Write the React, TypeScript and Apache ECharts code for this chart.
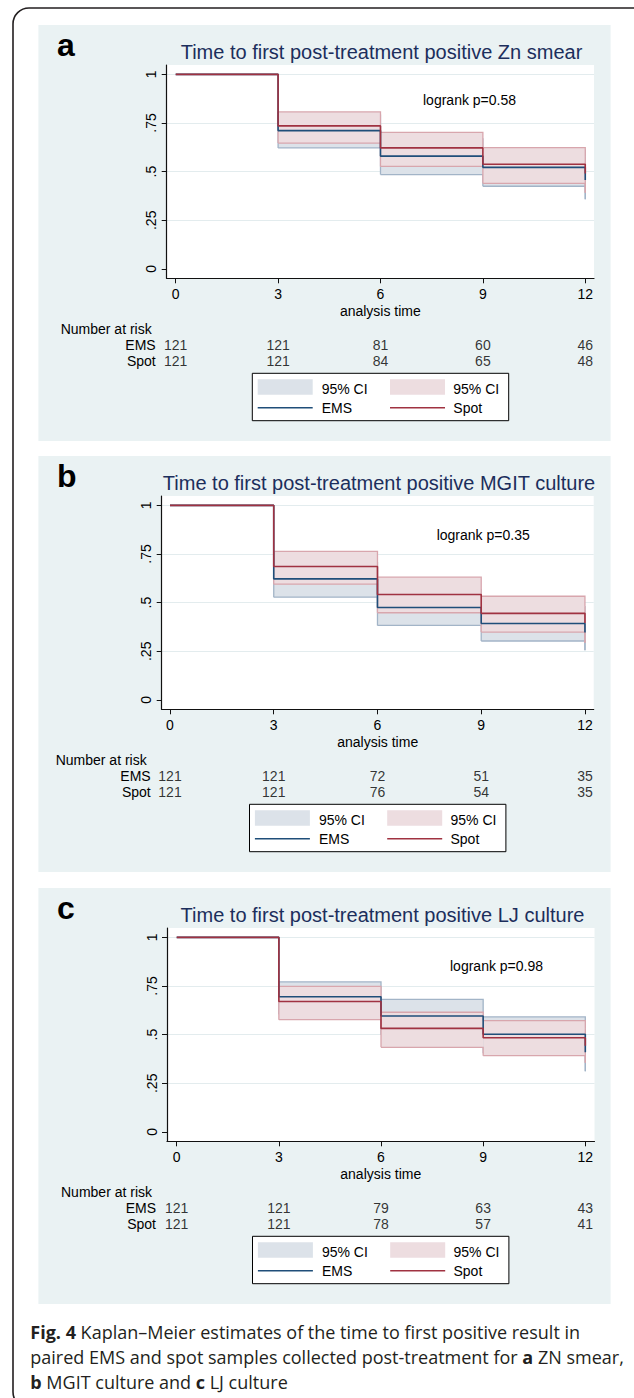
import React, { useEffect, useRef } from "react";
import * as echarts from "echarts";

// ---------------- data ----------------
const timePoints = [0, 3, 6, 9, 12];
const ciTimes = [3, 6, 9, 12];
const xTickValues = [0, 3, 6, 9, 12];
const yTickValues = [0, 0.25, 0.5, 0.75, 1];
const yTickLabels = ["0", ".25", ".5", ".75", "1"];
const riskRowNames = ["Spot", "EMS"];
const groupNames = ["EMS", "Spot"];
const ciLabel = "95% CI";
const xAxisName = "analysis time";
const riskHeader = "Number at risk";

// Panel a: ZN smear
const titleA = "Time to first post-treatment positive Zn smear";
const logrankA = "logrank p=0.58";
const emsSurvA = [1, 0.711, 0.58, 0.522, 0.457];
const spotSurvA = [1, 0.735, 0.622, 0.538, 0.491];
const emsLoA = [0.622, 0.485, 0.425, 0.358];
const emsHiA = [0.79, 0.668, 0.61, 0.55];
const spotLoA = [0.647, 0.527, 0.44, 0.392];
const spotHiA = [0.807, 0.702, 0.623, 0.577];
const emsRiskA = [121, 121, 81, 60, 46];
const spotRiskA = [121, 121, 84, 65, 48];

// Panel b: MGIT culture
const titleB = "Time to first post-treatment positive MGIT culture";
const logrankB = "logrank p=0.35";
const emsSurvB = [1, 0.622, 0.475, 0.393, 0.346];
const spotSurvB = [1, 0.686, 0.542, 0.445, 0.395];
const emsLoB = [0.528, 0.383, 0.303, 0.256];
const emsHiB = [0.705, 0.565, 0.48, 0.43];
const spotLoB = [0.595, 0.448, 0.349, 0.294];
const spotHiB = [0.763, 0.631, 0.533, 0.482];
const emsRiskB = [121, 121, 72, 51, 35];
const spotRiskB = [121, 121, 76, 54, 35];

// Panel c: LJ culture
const titleC = "Time to first post-treatment positive LJ culture";
const logrankC = "logrank p=0.98";
const emsSurvC = [1, 0.695, 0.596, 0.502, 0.409];
const spotSurvC = [1, 0.67, 0.532, 0.484, 0.443];
const emsLoC = [0.605, 0.5, 0.405, 0.312];
const emsHiC = [0.771, 0.681, 0.591, 0.51];
const spotLoC = [0.577, 0.435, 0.392, 0.355];
const spotHiC = [0.748, 0.615, 0.572, 0.53];
const emsRiskC = [121, 121, 79, 63, 43];
const spotRiskC = [121, 121, 78, 57, 41];

const captionLines = [
  "{b|Fig. 4} Kaplan\u2013Meier estimates of the time to first positive result in",
  "paired EMS and spot samples collected post-treatment for {b|a} ZN smear,",
  "{b|b} MGIT culture and {b|c} LJ culture",
];

// ---------------- layout & style ----------------
const FONT = "'Liberation Sans', Arial, Helvetica, sans-serif";
const CAPTION_FONT = "'Open Sans', 'Noto Sans', sans-serif";
const CAPTION_SIZE = 18;
const panelBg = "#EAF2F3";
const gridLineColor = "#E3ECEE";
const titleColor = "#1C2E5C";
const emsLine = "#1F4E79";
const spotLine = "#A03241";
const emsFill = "#DCE2E9";
const spotFill = "#EDDDE0";
const emsEdge = "#A2B4C7";
const spotEdge = "#D8A6AD";

const panels = [
  {
    letter: "a", title: titleA, logrank: logrankA,
    emsSurv: emsSurvA, spotSurv: spotSurvA,
    emsLo: emsLoA, emsHi: emsHiA, spotLo: spotLoA, spotHi: spotHiA,
    emsRisk: emsRiskA, spotRisk: spotRiskA,
    lay: { top: 25, left: 166.7, right: 594, xMin: -0.264, xMax: 12.256, titleX: 381.5, pX: 423, pY: 75, legendX: 252.3 },
  },
  {
    letter: "b", title: titleB, logrank: logrankB,
    emsSurv: emsSurvB, spotSurv: spotSurvB,
    emsLo: emsLoB, emsHi: emsHiB, spotLo: spotLoB, spotHi: spotHiB,
    emsRisk: emsRiskB, spotRisk: spotRiskB,
    lay: { top: 456, left: 161.7, right: 593.7, xMin: -0.24, xMax: 12.253, titleX: 379, pX: 436.7, pY: 79, legendX: 249.5 },
  },
  {
    letter: "c", title: titleC, logrank: logrankC,
    emsSurv: emsSurvC, spotSurv: spotSurvC,
    emsLo: emsLoC, emsHi: emsHiC, spotLo: spotLoC, spotHi: spotHiC,
    emsRisk: emsRiskC, spotRisk: spotRiskC,
    lay: { top: 888, left: 167, right: 594.5, xMin: -0.285, xMax: 12.27, titleX: 382.5, pX: 450, pY: 77.5, legendX: 252.5 },
  },
];

function bandItems(lo: number[], hi: number[]) {
  const items: number[][] = [];
  for (let k = 0; k < ciTimes.length - 1; k++) {
    items.push([ciTimes[k], ciTimes[k + 1], lo[k], hi[k], lo[k + 1], hi[k + 1]]);
  }
  return items;
}

function bandFillRender(fill: string) {
  return (params: any, api: any) => {
    const t0 = api.value(0), t1 = api.value(1), lo = api.value(2), hi = api.value(3);
    return {
      type: "polygon",
      silent: true,
      shape: { points: [api.coord([t0, lo]), api.coord([t0, hi]), api.coord([t1, hi]), api.coord([t1, lo])] },
      style: { fill, stroke: "none" },
    };
  };
}

function bandEdgeRender(stroke: string, count: number) {
  return (params: any, api: any) => {
    const t0 = api.value(0), t1 = api.value(1), lo = api.value(2), hi = api.value(3);
    const loN = api.value(4), hiN = api.value(5);
    const st = { stroke, fill: "none", lineWidth: 1.3 };
    const children: any[] = [
      { type: "polyline", shape: { points: [api.coord([t0, hi]), api.coord([t1, hi]), api.coord([t1, hiN])] }, style: st },
      { type: "polyline", shape: { points: [api.coord([t0, lo]), api.coord([t1, lo]), api.coord([t1, loN])] }, style: st },
    ];
    if (params.dataIndex === 0) {
      children.push({ type: "polyline", shape: { points: [api.coord([t0, lo]), api.coord([t0, hi])] }, style: st });
    }
    if (params.dataIndex === count - 1) {
      children.push({ type: "polyline", shape: { points: [api.coord([t1, hiN]), api.coord([t1, loN])] }, style: st });
    }
    return { type: "group", silent: true, children };
  };
}

function txt(text: string, x: number, y: number, extra: any = {}) {
  return {
    type: "text",
    z: 100,
    silent: true,
    style: {
      text, x, y,
      fill: "#000",
      fontSize: 14,
      fontFamily: FONT,
      align: "left", textAlign: "left",
      verticalAlign: "middle", textVerticalAlign: "middle",
      ...extra,
    },
  };
}

function buildOption() {
  const grids: any[] = [];
  const xAxes: any[] = [];
  const yAxes: any[] = [];
  const series: any[] = [];
  const graphics: any[] = [];

  // outer frame
  graphics.push({
    type: "rect", z: -20, silent: true,
    shape: { x: 13, y: 8, width: 640, height: 1400, r: 16 },
    style: { fill: "#fff", stroke: "#231F20", lineWidth: 1.6 },
  });

  panels.forEach((p) => {
    const L = p.lay;
    const T = L.top;
    const gMain = grids.length;
    grids.push({
      left: L.left, top: T + 40, width: L.right - L.left, height: 213.3,
      show: true, backgroundColor: "#ffffff", borderWidth: 0,
    });
    const gRisk = grids.length;
    grids.push({ left: L.left, top: T + 311.5, width: L.right - L.left, height: 32, show: false });

    xAxes.push({
      gridIndex: gMain, type: "value", min: L.xMin, max: L.xMax,
      axisLine: { show: true, onZero: false, lineStyle: { color: "#111", width: 1.2 } },
      axisTick: { show: true, customValues: xTickValues, length: 5, lineStyle: { color: "#111", width: 1 } },
      axisLabel: { show: true, customValues: xTickValues, fontSize: 14, color: "#000", margin: 9, fontFamily: FONT },
      splitLine: { show: false },
      name: xAxisName, nameLocation: "middle", nameGap: 26,
      nameTextStyle: { fontSize: 14, color: "#000", fontFamily: FONT },
    });
    yAxes.push({
      gridIndex: gMain, type: "value", min: -0.048, max: 1.048,
      axisLine: { show: true, onZero: false, lineStyle: { color: "#111", width: 1.2 } },
      axisTick: { show: true, customValues: yTickValues, length: 5, lineStyle: { color: "#111", width: 1 } },
      axisLabel: {
        show: true, customValues: yTickValues, rotate: 90, margin: 8.5, fontSize: 14, color: "#000", fontFamily: FONT,
        formatter: (v: number) => {
          const k = yTickValues.findIndex((t) => Math.abs(t - v) < 1e-9);
          return k >= 0 ? yTickLabels[k] : "";
        },
      },
      splitLine: {
        show: true,
        lineStyle: { color: yTickValues.map((v) => (v === 0 ? "rgba(0,0,0,0)" : gridLineColor)), width: 1.2 },
      },
    });
    xAxes.push({ gridIndex: gRisk, type: "value", min: L.xMin, max: L.xMax, show: false });
    yAxes.push({
      gridIndex: gRisk, type: "category", data: riskRowNames,
      axisLine: { show: false }, axisTick: { show: false }, splitLine: { show: false },
      axisLabel: { show: true, interval: 0, fontSize: 14, color: "#000", margin: 11, fontFamily: FONT },
    });

    const xi = xAxes.length - 2;
    const yi = yAxes.length - 2;
    const xr = xAxes.length - 1;
    const yr = yAxes.length - 1;
    const nItems = ciTimes.length - 1;

    series.push({
      type: "custom", name: groupNames[0] + " CI", xAxisIndex: xi, yAxisIndex: yi,
      data: bandItems(p.emsLo, p.emsHi), renderItem: bandFillRender(emsFill), silent: true,
    });
    series.push({
      type: "custom", name: groupNames[0] + " CI edge", xAxisIndex: xi, yAxisIndex: yi,
      data: bandItems(p.emsLo, p.emsHi), renderItem: bandEdgeRender(emsEdge, nItems), silent: true,
    });
    series.push({
      type: "custom", name: groupNames[1] + " CI", xAxisIndex: xi, yAxisIndex: yi,
      data: bandItems(p.spotLo, p.spotHi), renderItem: bandFillRender(spotFill), silent: true,
    });
    series.push({
      type: "custom", name: groupNames[1] + " CI edge", xAxisIndex: xi, yAxisIndex: yi,
      data: bandItems(p.spotLo, p.spotHi), renderItem: bandEdgeRender(spotEdge, nItems), silent: true,
    });
    series.push({
      type: "line", name: groupNames[0], xAxisIndex: xi, yAxisIndex: yi, step: "end",
      symbol: "none", silent: true,
      data: timePoints.map((t, k) => [t, p.emsSurv[k]]),
      lineStyle: { color: emsLine, width: 1.6 },
    });
    series.push({
      type: "line", name: groupNames[1], xAxisIndex: xi, yAxisIndex: yi, step: "end",
      symbol: "none", silent: true,
      data: timePoints.map((t, k) => [t, p.spotSurv[k]]),
      lineStyle: { color: spotLine, width: 1.6 },
    });
    const riskLabel = {
      show: true, position: "inside", fontSize: 14, color: "#000", fontFamily: FONT,
      formatter: (q: any) => String(q.value[2]),
    };
    series.push({
      type: "scatter", name: "risk EMS", xAxisIndex: xr, yAxisIndex: yr, silent: true,
      symbolSize: 1, itemStyle: { color: "rgba(0,0,0,0)" },
      data: timePoints.map((t, k) => [t, "EMS", p.emsRisk[k]]), label: riskLabel,
    });
    series.push({
      type: "scatter", name: "risk Spot", xAxisIndex: xr, yAxisIndex: yr, silent: true,
      symbolSize: 1, itemStyle: { color: "rgba(0,0,0,0)" },
      data: timePoints.map((t, k) => [t, "Spot", p.spotRisk[k]]), label: riskLabel,
    });

    // panel background
    graphics.push({
      type: "rect", z: -10, silent: true,
      shape: { x: 38.4, y: T, width: 572.2, height: 416 },
      style: { fill: panelBg },
    });
    // panel letter
    graphics.push(txt(p.letter, 57, T + 19.6, { fontSize: 32, fontWeight: "bold" }));
    // title
    graphics.push(txt(p.title, L.titleX, T + 27, { fontSize: 20, fill: titleColor, align: "center", textAlign: "center" }));
    // logrank
    graphics.push(txt(p.logrank, L.pX, T + L.pY, {}));
    // number at risk
    graphics.push(txt(riskHeader, L.left - 106, T + 304, {}));

    // legend
    const bx = L.legendX;
    const by = T + 348.3;
    graphics.push({
      type: "rect", z: 90, silent: true,
      shape: { x: bx, y: by, width: 256.4, height: 47.4 },
      style: { fill: "#fff", stroke: "#000", lineWidth: 1 },
    });
    graphics.push({ type: "rect", z: 95, silent: true, shape: { x: bx + 5.4, y: by + 6, width: 55, height: 15.4 }, style: { fill: emsFill } });
    graphics.push({ type: "rect", z: 95, silent: true, shape: { x: bx + 137.7, y: by + 6, width: 55, height: 15.4 }, style: { fill: spotFill } });
    graphics.push(txt(ciLabel, bx + 69.4, by + 15.2, {}));
    graphics.push(txt(ciLabel, bx + 201, by + 15.2, {}));
    graphics.push({ type: "line", z: 95, silent: true, shape: { x1: bx + 5.4, y1: by + 34.4, x2: bx + 60.4, y2: by + 34.4 }, style: { stroke: emsLine, lineWidth: 1.4 } });
    graphics.push({ type: "line", z: 95, silent: true, shape: { x1: bx + 137.7, y1: by + 34.4, x2: bx + 192.7, y2: by + 34.4 }, style: { stroke: spotLine, lineWidth: 1.4 } });
    graphics.push(txt(groupNames[0], bx + 69.4, by + 34.4, {}));
    graphics.push(txt(groupNames[1], bx + 201, by + 34.4, {}));
  });

  // caption
  captionLines.forEach((line, k) => {
    graphics.push({
      type: "text", z: 100, silent: true,
      style: {
        text: line, x: 30.3, y: 1332 + k * 25,
        fill: "#231F20", fontSize: CAPTION_SIZE, fontFamily: CAPTION_FONT,
        align: "left", textAlign: "left", verticalAlign: "middle", textVerticalAlign: "middle",
        rich: { b: { fontWeight: "bold", fontSize: CAPTION_SIZE, fontFamily: CAPTION_FONT, fill: "#231F20" } },
      },
    });
  });

  return {
    animation: false,
    backgroundColor: "#ffffff",
    textStyle: { fontFamily: FONT },
    grid: grids,
    xAxis: xAxes,
    yAxis: yAxes,
    series,
    graphic: { elements: graphics },
  };
}

export default function App() {
  const ref = useRef<HTMLDivElement | null>(null);
  useEffect(() => {
    if (!ref.current) return;
    const chart = echarts.init(ref.current, undefined, { renderer: "svg", width: 634, height: 1398 });
    chart.setOption(buildOption() as any);
    return () => chart.dispose();
  }, []);
  return (
    <div
      ref={ref}
      style={{ position: "absolute", left: 0, top: 0, width: 634, height: 1398 }}
    />
  );
}
